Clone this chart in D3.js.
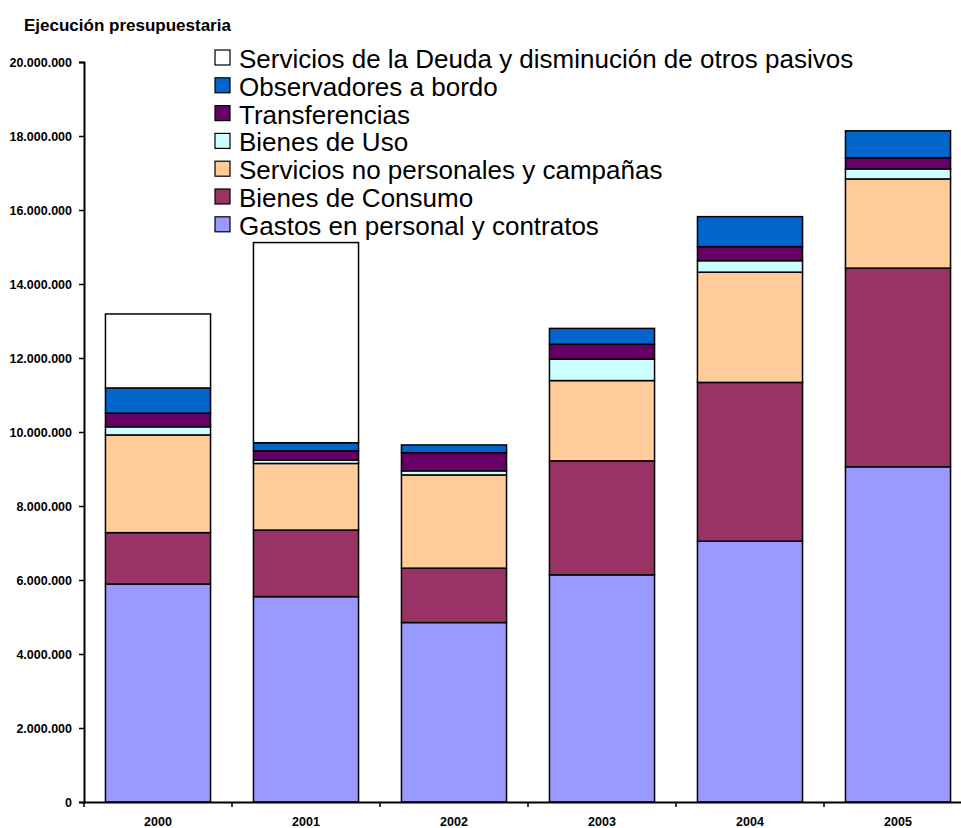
<!DOCTYPE html>
<html>
<head>
<meta charset="utf-8">
<script src="https://cdn.jsdelivr.net/npm/d3@7"></script>
<style>
  body { margin: 0; background: white; }
  text { font-family: Arial, "Liberation Sans", sans-serif; }
</style>
</head>
<body>
<div id="chart"></div>
<script>
// Data (values in pesos)
const years = ["2000", "2001", "2002", "2003", "2004", "2005"];

const gastosPersonal   = [5890000, 5550000, 4850000, 6140000, 7050000, 9060000];
const bienesConsumo    = [1390000, 1800000, 1470000, 3080000, 4290000, 5370000];
const serviciosNoPers  = [2640000, 1800000, 2520000, 2170000, 2980000, 2410000];
const bienesUso        = [220000, 90000, 110000, 580000, 310000, 270000];
const transferencias   = [370000, 250000, 490000, 400000, 380000, 300000];
const observadores     = [680000, 220000, 210000, 430000, 810000, 730000];
const serviciosDeuda   = [2000000, 5410000, 0, 0, 0, 0];

const seriesNames = [
  "Gastos en personal y contratos",
  "Bienes de Consumo",
  "Servicios no personales y campañas",
  "Bienes de Uso",
  "Transferencias",
  "Observadores a bordo",
  "Servicios de la Deuda y disminución de otros pasivos"
];
const seriesValues = [gastosPersonal, bienesConsumo, serviciosNoPers, bienesUso,
                      transferencias, observadores, serviciosDeuda];
const seriesColors = ["#9999FF", "#993366", "#FFCC99", "#CCFFFF", "#660066", "#0066CC", "#FFFFFF"];

const yTicks = [0, 2000000, 4000000, 6000000, 8000000, 10000000, 12000000,
                14000000, 16000000, 18000000, 20000000];

// Layout
let width = 961, height = 828;
let margin = { top: 62, bottom: 26, left: 84, right: -11 };

let svg = d3.select('#chart')
            .append('svg')
            .attr('width', width)
            .attr('height', height)
            .style('background', 'white');

// build table for stacking
const table = years.map((yr, i) => {
  const row = { year: yr };
  seriesNames.forEach((s, j) => row[s] = seriesValues[j][i]);
  return row;
});
const stacked = d3.stack().keys(seriesNames)(table);

const x = d3.scaleBand()
            .domain(years)
            .range([margin.left, width - margin.right])
            .paddingInner(0.29)
            .paddingOuter(0.145);

const y = d3.scaleLinear()
            .domain([0, 20000000])
            .range([height - margin.bottom, margin.top]);

const color = d3.scaleOrdinal().domain(seriesNames).range(seriesColors);

const locale = d3.formatLocale({ decimal: ",", thousands: ".", grouping: [3], currency: ["", ""] });
const fmt = locale.format(",d");

// Bars
const layers = svg.append('g')
  .selectAll('g')
  .data(stacked)
  .enter()
  .append('g')
  .attr('fill', d => color(d.key));

layers.selectAll('rect')
  .data(d => d.filter(p => p[1] - p[0] > 0))
  .enter()
  .append('rect')
  .attr('x', d => x(d.data.year))
  .attr('y', d => y(d[1]))
  .attr('width', x.bandwidth())
  .attr('height', d => y(d[0]) - y(d[1]))
  .attr('stroke', 'black')
  .attr('stroke-width', 1.5);

// Y axis
let yaxis = svg.append('g')
  .attr('transform', `translate(${margin.left},0)`)
  .call(d3.axisLeft(y).tickValues(yTicks).tickFormat(fmt).tickSize(5).tickPadding(7));
yaxis.select('.domain').attr('stroke-width', 2);
yaxis.selectAll('.tick line').attr('stroke-width', 1.5);
yaxis.selectAll('text')
  .attr('font-size', '12.5px')
  .attr('font-weight', 'bold')
  .attr('font-family', 'Arial, "Liberation Sans", sans-serif');

// X axis (labels centred, ticks on category boundaries)
let xaxis = svg.append('g')
  .attr('transform', `translate(0,${height - margin.bottom})`)
  .call(d3.axisBottom(x).tickSize(0).tickPadding(15).tickSizeOuter(0));
xaxis.select('.domain').attr('stroke-width', 2);
xaxis.selectAll('text')
  .attr('font-size', '12.5px')
  .attr('font-weight', 'bold')
  .attr('font-family', 'Arial, "Liberation Sans", sans-serif');

xaxis.selectAll('.bound')
  .data(d3.range(years.length + 1))
  .enter()
  .append('line')
  .attr('x1', i => x.range()[0] + i * x.step())
  .attr('x2', i => x.range()[0] + i * x.step())
  .attr('y1', 0)
  .attr('y2', 5)
  .attr('stroke', 'black')
  .attr('stroke-width', 1.5);

// Title
svg.append('text')
   .attr('x', 24)
   .attr('y', 31)
   .attr('font-size', '17px')
   .attr('font-weight', 'bold')
   .text('Ejecución presupuestaria');

// Legend (reverse order, top = last series)
const legend = svg.append('g').attr('transform', 'translate(215, 50)');
seriesNames.slice().reverse().forEach((name, i) => {
  legend.append('rect')
        .attr('x', 0)
        .attr('y', i * 27.8)
        .attr('width', 15)
        .attr('height', 15)
        .attr('fill', color(name))
        .attr('stroke', 'black')
        .attr('stroke-width', 1.2);
  legend.append('text')
        .attr('x', 24)
        .attr('y', i * 27.8 + 18)
        .attr('font-size', '26px')
        .text(name);
});
</script>
</body>
</html>
